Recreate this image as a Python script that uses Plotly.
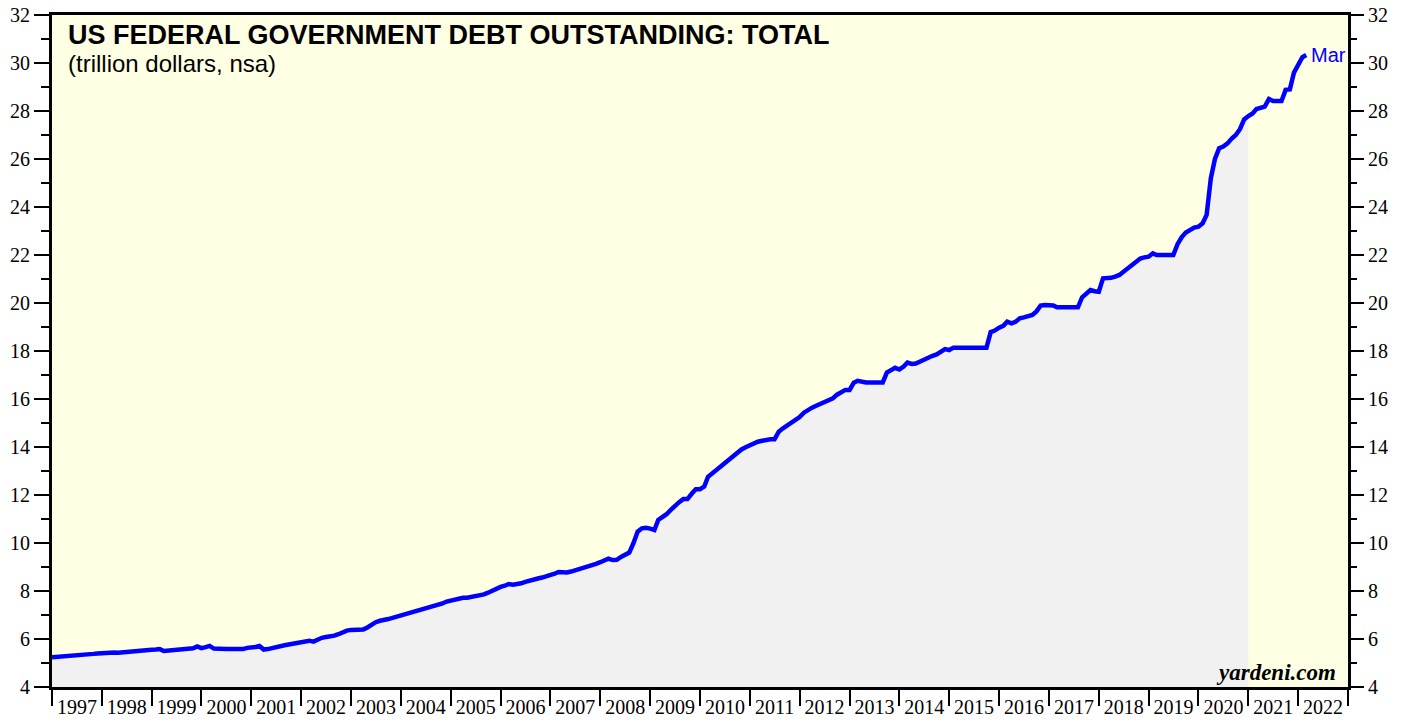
import pandas as pd
import plotly.graph_objects as go

# Monthly values (trillion dollars)
debt_1997 = [5.24, 5.25, 5.27, 5.27, 5.28, 5.29, 5.30, 5.31, 5.34, 5.36, 5.38, 5.40]
debt_1998 = [5.42, 5.43, 5.42, 5.44, 5.43, 5.45, 5.46, 5.45, 5.48, 5.50, 5.52, 5.54]
debt_1999 = [5.55, 5.56, 5.58, 5.50, 5.51, 5.52, 5.53, 5.54, 5.56, 5.58, 5.61, 5.69]
debt_2000 = [5.62, 5.66, 5.71, 5.60, 5.58, 5.58, 5.58, 5.58, 5.58, 5.59, 5.58, 5.63]
debt_2001 = [5.63, 5.67, 5.71, 5.56, 5.58, 5.63, 5.65, 5.68, 5.74, 5.77, 5.81, 5.86]
debt_2002 = [5.88, 5.93, 5.93, 5.89, 5.97, 6.05, 6.08, 6.10, 6.14, 6.20, 6.28, 6.35]
debt_2003 = [6.38, 6.40, 6.41, 6.40, 6.48, 6.62, 6.70, 6.76, 6.78, 6.83, 6.88, 6.93]
debt_2004 = [6.97, 7.02, 7.08, 7.10, 7.14, 7.20, 7.26, 7.30, 7.35, 7.40, 7.48, 7.56]
debt_2005 = [7.60, 7.65, 7.71, 7.72, 7.72, 7.75, 7.80, 7.84, 7.86, 7.93, 8.02, 8.11]
debt_2006 = [8.17, 8.22, 8.29, 8.26, 8.27, 8.32, 8.38, 8.44, 8.47, 8.52, 8.56, 8.60]
debt_2007 = [8.66, 8.72, 8.79, 8.78, 8.77, 8.81, 8.86, 8.91, 8.93, 8.99, 9.06, 9.13]
debt_2008 = [9.20, 9.28, 9.35, 9.29, 9.30, 9.42, 9.53, 9.60, 10.00, 10.47, 10.61, 10.63]
debt_2009 = [10.60, 10.54, 10.96, 11.07, 11.20, 11.38, 11.55, 11.70, 11.83, 11.83, 12.05, 12.24]
debt_2010 = [12.24, 12.35, 12.76, 12.90, 13.05, 13.18, 13.35, 13.48, 13.60, 13.78, 13.90, 13.99]
debt_2011 = [14.08, 14.15, 14.22, 14.26, 14.30, 14.32, 14.32, 14.64, 14.78, 14.90, 14.99, 15.12]
debt_2012 = [15.25, 15.43, 15.55, 15.64, 15.72, 15.79, 15.87, 15.95, 16.03, 16.18, 16.26, 16.38]
debt_2013 = [16.38, 16.68, 16.76, 16.72, 16.69, 16.69, 16.69, 16.69, 16.69, 17.10, 17.20, 17.30]
debt_2014 = [17.23, 17.35, 17.52, 17.46, 17.48, 17.57, 17.62, 17.70, 17.80, 17.86, 17.95, 18.08]
debt_2015 = [18.04, 18.14, 18.14, 18.14, 18.14, 18.14, 18.14, 18.14, 18.14, 18.14, 18.79, 18.85]
debt_2016 = [18.97, 19.05, 19.22, 19.15, 19.22, 19.36, 19.40, 19.45, 19.50, 19.65, 19.89, 19.92]
debt_2017 = [19.92, 19.90, 19.82, 19.82, 19.82, 19.82, 19.82, 19.82, 20.24, 20.42, 20.54, 20.49]
debt_2018 = [20.47, 21.03, 21.03, 21.05, 21.10, 21.17, 21.30, 21.44, 21.54, 21.70, 21.85, 21.90]
debt_2019 = [21.93, 22.07, 22.00, 22.00, 22.00, 22.00, 22.00, 22.45, 22.75, 22.94, 23.04, 23.14]
debt_2020 = [23.18, 23.32, 23.67, 25.20, 26.00, 26.45, 26.52, 26.65, 26.85, 27.00, 27.25, 27.65]
debt_2021 = [27.79, 27.90, 28.08, 28.15, 28.18, 28.50, 28.42, 28.42, 28.42, 28.88, 28.90, 29.60]
debt_2022 = [29.92, 30.24, 30.33]

first_month = "1997-01-01"
shade_end = "2021-01-01"
last_label = "Mar"

debt = (debt_1997 + debt_1998 + debt_1999 + debt_2000 + debt_2001 + debt_2002 + debt_2003
        + debt_2004 + debt_2005 + debt_2006 + debt_2007 + debt_2008 + debt_2009 + debt_2010
        + debt_2011 + debt_2012 + debt_2013 + debt_2014 + debt_2015 + debt_2016 + debt_2017
        + debt_2018 + debt_2019 + debt_2020 + debt_2021 + debt_2022)
dates = pd.date_range(first_month, periods=len(debt), freq="MS")
df = pd.DataFrame({"date": dates, "debt": debt})
shaded = df[df["date"] <= pd.Timestamp(shade_end)]

fig = go.Figure()
fig.add_trace(go.Scatter(x=shaded["date"], y=shaded["debt"], mode="lines",
                         line=dict(width=0, color="rgba(0,0,0,0)"),
                         fill="tozeroy", fillcolor="#F1F1F1", hoverinfo="skip",
                         showlegend=False))
fig.add_trace(go.Scatter(x=df["date"], y=df["debt"], mode="lines",
                         line=dict(color="#0000FF", width=4.5), showlegend=False))
fig.add_trace(go.Scatter(x=df["date"], y=df["debt"], mode="lines", yaxis="y2",
                         line=dict(color="rgba(0,0,0,0)", width=0), hoverinfo="skip",
                         showlegend=False))

fig.add_annotation(x=df["date"].iloc[-1], y=df["debt"].iloc[-1], text=last_label,
                   showarrow=False, xanchor="left", yanchor="middle", xshift=3,
                   font=dict(family="Liberation Sans", size=20, color="#0000FF"))

fig.add_annotation(x=0.0105, y=0.970, xref="paper", yref="paper", xanchor="left", yanchor="middle",
                   text="<b>US FEDERAL GOVERNMENT DEBT OUTSTANDING: TOTAL</b>", showarrow=False,
                   font=dict(family="Liberation Sans", size=27, color="black"))
fig.add_annotation(x=0.0105, y=0.928, xref="paper", yref="paper", xanchor="left", yanchor="middle",
                   text="(trillion dollars, nsa)", showarrow=False,
                   font=dict(family="Liberation Sans", size=24, color="black"))
fig.add_annotation(x=0.992, y=0.022, xref="paper", yref="paper", xanchor="right", yanchor="middle",
                   text="<b><i>yardeni.com</i></b>", showarrow=False,
                   font=dict(family="Liberation Serif", size=23, color="black"))

tick_font = dict(family="Liberation Serif", size=20, color="black")
yaxis_common = dict(range=[4, 32], dtick=2, tick0=0, ticks="outside", ticklen=15, tickwidth=1.5,
                    tickcolor="black", showgrid=False, zeroline=False, tickfont=tick_font,
                    automargin=False,
                    minor=dict(dtick=1, ticks="outside", ticklen=8, tickwidth=1.5,
                               tickcolor="black", showgrid=False))

fig.update_layout(
    width=1408, height=721, autosize=False,
    margin=dict(l=52, r=60, t=15, b=34, autoexpand=False),
    paper_bgcolor="white", plot_bgcolor="#FFFFE4",
    xaxis=dict(type="date", range=["1997-01-01", "2023-01-01"], dtick="M12", tick0="1997-01-01",
               tickformat="%Y", ticklabelmode="period", ticks="outside", ticklen=16, tickwidth=2,
               tickcolor="black", showline=True, linewidth=3, linecolor="black", mirror=True,
               showgrid=False, zeroline=False, tickfont=tick_font, ticklabelstandoff=-16,
               automargin=False),
    yaxis=dict(showline=True, linewidth=3, linecolor="black", mirror=True, **yaxis_common),
    yaxis2=dict(overlaying="y", side="right", anchor="x", showline=False, **yaxis_common),
)

fig.write_html("out.html", config={"displayModeBar": False},
               post_script="document.body.style.margin='0';document.body.style.overflow='hidden';")
